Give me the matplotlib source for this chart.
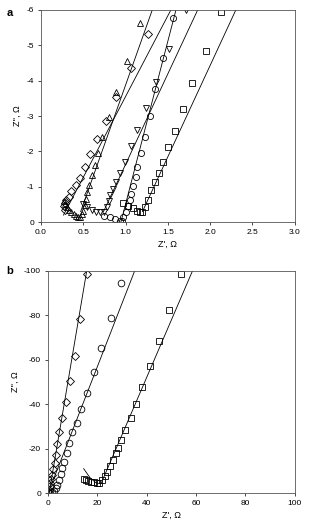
import numpy as np
import matplotlib
matplotlib.use("Agg")
import matplotlib.pyplot as plt

plt.rcParams['font.family'] = ['Liberation Sans', 'DejaVu Sans']
plt.rcParams['axes.unicode_minus'] = False

# ---- panel a data: Z' (ohm), Z'' (ohm) ----
a_dia_x = [0.28, 0.27, 0.28, 0.30, 0.33, 0.36, 0.41, 0.46, 0.52, 0.58, 0.66, 0.77, 0.885, 1.06, 1.26]
a_dia_y = [-0.35, -0.45, -0.55, -0.62, -0.72, -0.88, -1.05, -1.24, -1.57, -1.92, -2.35, -2.87, -3.55, -4.35, -5.32]

a_tup_x = [0.27, 0.29, 0.31, 0.33, 0.36, 0.39, 0.42, 0.44, 0.46, 0.48, 0.50, 0.52, 0.53, 0.55,
           0.57, 0.60, 0.645, 0.68, 0.72, 0.81, 0.89, 1.02, 1.17]
a_tup_y = [-0.60, -0.50, -0.42, -0.35, -0.28, -0.22, -0.17, -0.14, -0.15, -0.22, -0.33, -0.48, -0.65, -0.86,
           -1.05, -1.33, -1.61, -1.95, -2.40, -2.98, -3.69, -4.56, -5.63]

a_tdn_x = [0.50, 0.55, 0.60, 0.65, 0.70, 0.74, 0.78, 0.80, 0.82, 0.85, 0.89, 0.93, 0.99, 1.06,
           1.14, 1.24, 1.36, 1.515, 1.72]
a_tdn_y = [-0.50, -0.42, -0.35, -0.30, -0.28, -0.30, -0.42, -0.60, -0.78, -0.95, -1.14, -1.40, -1.71, -2.15,
           -2.60, -3.22, -3.96, -4.89, -6.0]

a_cir_x = [0.75, 0.82, 0.88, 0.93, 0.96, 0.97, 1.01, 1.03, 1.05, 1.07, 1.09, 1.12, 1.14, 1.18,
           1.23, 1.29, 1.35, 1.44, 1.56]
a_cir_y = [-0.18, -0.15, -0.08, -0.04, -0.03, -0.15, -0.29, -0.45, -0.64, -0.81, -1.02, -1.27, -1.57, -1.96,
           -2.42, -3.01, -3.76, -4.64, -5.77]

a_sq_x = [0.97, 1.03, 1.09, 1.13, 1.17, 1.20, 1.23, 1.27, 1.30, 1.35, 1.39, 1.44, 1.50, 1.58,
          1.68, 1.79, 1.95, 2.13]
a_sq_y = [-0.53, -0.45, -0.39, -0.33, -0.29, -0.30, -0.43, -0.62, -0.90, -1.14, -1.40, -1.71, -2.12, -2.59,
          -3.20, -3.93, -4.84, -5.94]

# fitted lines (start / end points)
a_fit_x = [[0.267, 1.645], [0.47, 1.39], [0.74, 1.95], [0.945, 1.65], [1.20, 2.40]]
a_fit_y = [[-0.2, -6.5], [-0.3, -6.5], [-0.3, -6.5], [0.0, -6.5], [-0.3, -6.5]]

# ---- panel b data ----
b_dia_x = [0.1, 0.4, 0.7, 1.0, 1.4, 1.75, 2.1, 2.8, 3.1, 3.8, 4.6, 5.8, 7.3, 8.9, 10.9, 12.96, 15.9]
b_dia_y = [-0.5, -1.5, -3.0, -4.5, -6.2, -8.1, -10.7, -13.6, -17.1, -22.1, -27.6, -33.6, -41.1, -50.5,
           -61.7, -78.2, -98.5]

b_cir_x = [1.0, 1.7, 2.4, 3.1, 3.8, 4.6, 5.3, 5.9, 6.6, 7.6, 8.6, 9.6, 11.6, 13.4, 15.9, 18.6, 21.7,
           25.5, 29.8]
b_cir_y = [-0.2, -0.3, -1.0, -2.1, -3.6, -5.9, -8.4, -11.1, -14.1, -17.9, -22.4, -27.6, -31.4, -37.7,
           -44.9, -54.4, -65.5, -78.7, -94.7]

b_sq_x = [14.6, 15.4, 16.3, 17.3, 18.6, 19.7, 20.9, 22.0, 23.1, 24.0, 25.1, 26.4, 27.4, 28.5, 29.8,
          31.4, 33.6, 35.6, 38.3, 41.3, 44.9, 49.0, 54.1]
b_sq_y = [-6.2, -5.9, -5.5, -5.1, -4.8, -4.4, -4.4, -5.9, -7.7, -9.6, -12.2, -14.9, -17.9, -20.1, -23.9,
          -28.4, -33.9, -40.1, -47.9, -57.2, -68.6, -82.4, -98.6]

b_fit_dia_x = [0.5, 16.5]
b_fit_dia_y = [0.0, -105.0]
b_fit_cir_x = [0.1, 36.9]
b_fit_cir_y = [0.0, -105.0]
b_fit_sq_x = [14.5, 17.0, 19.5, 21.5, 60.5]
b_fit_sq_y = [-11.0, -7.0, -4.6, -4.2, -105.0]

fig = plt.figure(figsize=(3.17, 5.24), dpi=100)
ax1 = fig.add_axes([0.129, 0.576, 0.801, 0.405])
ax2 = fig.add_axes([0.151, 0.059, 0.779, 0.424])

mk = dict(linestyle='none', markerfacecolor='none', markeredgecolor='black',
          markeredgewidth=0.6, markersize=4.4)

for fx, fy in zip(a_fit_x, a_fit_y):
    ax1.plot(fx, fy, color='black', linewidth=0.6)
ax1.plot(a_dia_x, a_dia_y, marker='D', **dict(mk, markersize=3.8))
ax1.plot(a_tup_x, a_tup_y, marker='^', **mk)
ax1.plot(a_tdn_x, a_tdn_y, marker='v', **mk)
ax1.plot(a_cir_x, a_cir_y, marker='o', **mk)
ax1.plot(a_sq_x, a_sq_y, marker='s', **mk)

ax1.set_xlim(0, 3)
ax1.set_ylim(0, -6)
ax1.set_xticks(np.arange(0, 3.01, 0.5))
ax1.set_xticklabels(['%.1f' % v for v in np.arange(0, 3.01, 0.5)])
ax1.set_yticks(np.arange(0, -6.01, -1))
ax1.set_xlabel("Z', Ω", fontsize=6.5, labelpad=2.5)
ax1.set_ylabel("Z'', Ω", fontsize=6.5, labelpad=3)

ax2.plot(b_fit_dia_x, b_fit_dia_y, color='black', linewidth=0.6)
ax2.plot(b_fit_cir_x, b_fit_cir_y, color='black', linewidth=0.6)
ax2.plot(b_fit_sq_x, b_fit_sq_y, color='black', linewidth=0.6)
ax2.plot(b_dia_x, b_dia_y, marker='D', **dict(mk, markersize=4.0))
ax2.plot(b_cir_x, b_cir_y, marker='o', **dict(mk, markersize=4.8))
ax2.plot(b_sq_x, b_sq_y, marker='s', **dict(mk, markersize=4.6))

ax2.set_xlim(0, 100)
ax2.set_ylim(0, -100)
ax2.set_xticks(np.arange(0, 101, 20))
ax2.set_yticks(np.arange(0, -101, -20))
ax2.set_xlabel("Z', Ω", fontsize=6.5, labelpad=2.5)
ax2.set_ylabel("Z'', Ω", fontsize=6.5, labelpad=3)

for ax in (ax1, ax2):
    ax.tick_params(labelsize=6, length=2.5, width=0.5, pad=2.5, direction='out')
    for s in ax.spines.values():
        s.set_linewidth(0.6)
        s.set_color('#555555')

fig.text(0.02, 0.975, 'a', fontsize=8, fontweight='bold', va='center')
fig.text(0.02, 0.482, 'b', fontsize=8, fontweight='bold', va='center')

fig.savefig('out.png', dpi=100)
